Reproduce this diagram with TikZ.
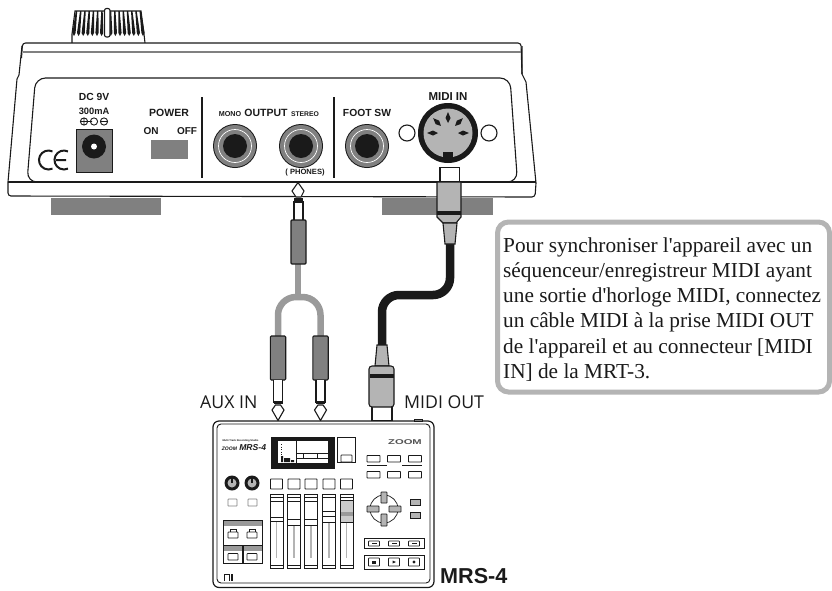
\documentclass[tikz,border=0pt]{standalone}
\usepackage{fontspec}
\setmainfont{Liberation Sans}
\newfontfamily\serifbox{Liberation Serif}
\newfontfamily\auxfont{Open Sans}
\usetikzlibrary{calc}
\definecolor{midg}{HTML}{808080}
\definecolor{lightg}{HTML}{B4B4B4}
\definecolor{cableg}{HTML}{9A9A9A}
\definecolor{ink}{HTML}{1A1A1A}
\tikzset{
 outline/.style={draw=ink,line width=1.1pt},
 thin line/.style={draw=ink,line width=.6pt},
 label/.style={inner sep=0pt,text=ink,font=\bfseries\fontsize{#1}{#1}\selectfont},
 label/.default=12,
 wire/.style={line width=6.5pt,cableg},
 midiwire/.style={line width=8.5pt,ink,rounded corners=17pt},
 btn/.style={draw=ink,line width=.7pt,fill=white,rounded corners=.5pt},
 notetext/.style={inner sep=0pt,anchor=base west,text=ink,font=\serifbox\fontsize{21.3}{25.3}\selectfont},
 sidetext/.style={inner sep=0pt,anchor=base west,text=ink,font=\auxfont\fontsize{17.7}{17.7}\selectfont},
}
\newcommand{\phonejack}[2]{%
 \fill[ink] (#1,#2) circle (22);
 \fill[midg] (#1,#2) circle (21);
 \draw[white,line width=.7pt] (#1,#2) circle (16.5);
 \fill[ink] (#1,#2) circle (12);
}
\newcommand{\plugdown}[2]{% x, top y of sleeve
 \draw[outline,fill=midg,rounded corners=1pt] (#1-7.7,#2) rectangle (#1+7.7,#2+44);
 \draw[outline,fill=white] (#1-4.5,#2+44) -- (#1-4.5,#2+66) -- (#1+4.5,#2+66) -- (#1+4.5,#2+44);
 \fill[ink] (#1-4.5,#2+66) rectangle (#1+4.5,#2+68);
 \draw[outline,fill=white] (#1-2.5,#2+69) -- (#1-6,#2+74) -- (#1,#2+84.5) -- (#1+6,#2+74) -- (#1+2.5,#2+69) -- cycle;
}
\newcommand{\fader}[5]{% x, cap top, cap bottom, fill, bar
 \draw[draw=ink,line width=.8pt,fill=white] (#1-6.5,494) rectangle (#1+6.5,568);
 \draw[thin line] (#1-6.5,497.5) -- (#1+6.5,497.5);
 \draw[thin line] (#1-6.5,565) -- (#1+6.5,565);
 \fill[lightg] (#1-.8,#3) rectangle (#1+.8,558);
 \draw[draw=ink,line width=.8pt,fill=#4] (#1-6.5,#2) rectangle (#1+6.5,#3);
 \draw[thin line] (#1-6.5,#5) -- (#1+6.5,#5);
 \draw[btn,line width=.9pt] (#1-6,479) rectangle (#1+6,489);
}
\begin{document}
\begin{tikzpicture}[x=1pt,y=-1pt]
\useasboundingbox (0,0) rectangle (832,590);
% knob
\draw[outline,fill=white] (72,43) -- (72,34) -- (75,11) -- (141,11) -- (144,34) -- (145,43);
\foreach \i in {0,...,15}{
  \pgfmathsetmacro{\tx}{76.5+\i*4.25}
  \pgfmathsetmacro{\bx}{74+\i*4.6}
  \fill[ink] (\tx-.7,11) -- (\tx+.7,11) -- (\bx+1.6,33) -- (\bx,36) -- (\bx-1.6,33) -- cycle;
}
\draw[outline,fill=white,rounded corners=2pt] (104.5,8.5) rectangle (110,37);
% body
\draw[outline,fill=white,rounded corners=3pt] (21.5,58) -- (22.5,43) -- (521,43) -- (522,74);
\draw[outline,fill=white] (22,46) -- (19,75) -- (17,79) -- (8,182);
\draw[outline] (522,46) -- (522,74) -- (526,82) -- (536,183);
\draw[outline,rounded corners=3pt] (8,182) -- (8,196) -- (535,197) -- (536,183);
\draw[midg,line width=1.1pt] (23,52) -- (521,52);
\draw[outline,rounded corners=10pt] (45,182) -- (27,182) -- (35.5,78) -- (510,78) -- (517.5,182) -- (500,182);
\draw[outline] (8,182) -- (536,182);
% feet
\fill[midg] (51,197.5) rectangle (161,215);
\fill[midg] (382,197.5) rectangle (493,215);
% CE
\draw[ink,line width=2pt] (52.5,151.4) arc[start angle=-65,end angle=-295,radius=9.5];
\draw[ink,line width=2pt] (68,151.4) arc[start angle=-65,end angle=-295,radius=9.5] (56,160) -- (66,160);
% DC
\node[label=10.3] (dc) at (94,97) {DC 9V};
\node[label=9.3] (ma) at (94,111) {300mA};
\draw[ink,line width=.9pt] (84,121.5) circle (3.6) (84,118)--(84,125) (80.5,121.5)--(87.5,121.5)
  (94,121.5) circle (3.6) (88,121.5)--(92,121.5)
  (104,121.5) circle (3.6) (100.5,121.5)--(107.5,121.5);
\fill[midg] (76,129) rectangle (112,172);
\draw[ink,line width=.7pt] (76,129) rectangle (112,172);
\fill[ink] (94,146.5) circle (12);
\fill[white] (94,146.5) circle (3);
% power
\node[label=10.5] (pw) at (169,113) {POWER};
\node[label=10] (on) at (151,131) {ON};
\node[label=10] (off) at (187,131) {OFF};
\fill[midg] (151,140) rectangle (188,159);
\draw[ink,line width=1.6pt] (202,97) -- (202,178);
\draw[ink,line width=1.6pt] (334,97) -- (334,178);
% output
\node[label=7.2] (mono) at (230,114.5) {MONO};
\node[label=10.5] (out) at (266,113) {OUTPUT};
\node[label=6.8] (st) at (305,114.5) {STEREO};
\phonejack{235}{146}
\phonejack{301}{146}
\phonejack{367}{146}
\node[label=7.6] (ph) at (305,172.5) {( PHONES)};
\node[label=10.3] (fs) at (367,113) {FOOT SW};
% midi in
\node[label=11.5] (mi) at (448,97) {MIDI IN};
\fill[ink] (448,133) circle (30);
\fill[lightg] (448,133) circle (24.5);
\draw[outline,fill=white] (407,133) circle (8);
\draw[outline,fill=white] (489,133) circle (8);
\foreach \a in {0,45,90,135,180}{
  \fill[ink,rotate around={-\a:(448,133)}] (427,133) -- (433,130.5) -- (438,133) -- (433,135.5) -- cycle;
}
\fill[ink] (443,152) rectangle (453,162);
% cables
\coordinate (ytop) at (298,263);
\coordinate (ysplit) at (298,297);
\coordinate (yl) at (278,336);
\coordinate (yr) at (320.5,336);
\draw[wire] (ytop) -- (ysplit);
\draw[wire,rounded corners=18pt] (yl) -- (278,297) -- (320.5,297) -- (yr);
\draw[outline,fill=white] (294,220) -- (294,202) -- (303,202) -- (303,220);
\fill[ink] (294,198) rectangle (303,201.5);
\draw[outline,fill=white] (296,197) -- (292,191) -- (298,182.5) -- (304,191) -- (301,197) -- cycle;
\draw[outline,fill=midg,rounded corners=1pt] (291,220) rectangle (306,264);
\plugdown{278}{336}
\plugdown{320.5}{336}
% midi plug top
\coordinate (mt) at (450,243);
\coordinate (mb) at (382,346);
\draw[midiwire] (mt) -- (450,295) -- (382,295) -- (mb);
\draw[outline,fill=white] (440,167.5) rectangle (459.5,182);
\draw[outline,fill=lightg] (437,182) -- (461,182) -- (461,217) -- (456,223) -- (443,223) -- (437,217) -- cycle;
\fill[ink] (437,211) rectangle (461,214.5);
\draw[outline,fill=lightg] (443,223) -- (445,244) -- (455,244) -- (457,223) -- cycle;
% midi plug bottom
\draw[outline,fill=white] (372,405) rectangle (392,421);
\draw[outline,fill=lightg] (377,345) -- (387,345) -- (389,366) -- (375,366) -- cycle;
\draw[outline,fill=lightg,rounded corners=3pt] (369,366) rectangle (394,407);
\fill[ink] (369.5,374) rectangle (393.5,378);
% labels
\node[sidetext] (aux) at (200,408) {AUX IN};
\node[sidetext] (mout) at (404,408) {MIDI OUT};
\node[inner sep=0pt,anchor=base west,text=ink,font=\bfseries\fontsize{21.6}{21.6}\selectfont] (mrs) at (440,583) {MRS-4};
% MRS-4 device
\draw[ink,line width=1.2pt,rounded corners=6pt,fill=white] (213,421) rectangle (434,587.5);
\draw[ink,line width=.9pt,rounded corners=4pt] (217,424) rectangle (430,583);
\draw[thin line,fill=midg] (414,419) rectangle (422,421);
\node[inner sep=0pt,text=ink,font=\bfseries\fontsize{2.6}{2.6}\selectfont] (m1) at (240.5,441) {Multi Track Recording Studio};
\node[inner sep=0pt,text=ink,font=\bfseries\itshape\fontsize{8.6}{8.6}\selectfont] (m2) at (244,447.5) {{\fontsize{5}{5}\selectfont ZOOM} MRS-4};
\node[inner sep=0pt,text=ink!75,xscale=1.6,font=\bfseries\fontsize{7}{7}\selectfont] (zl) at (405,442) {ZOOM};
% screen
\fill[ink] (271,437) rectangle (335,469);
\fill[white] (278,441) rectangle (328,463);
\draw[ink,line width=.5pt] (296,441) -- (296,463) (296,453) -- (328,453) (303,453) -- (303,458) (317,453) -- (317,458) (296,458) -- (328,458);
\fill[ink] (281,456) rectangle (283,462) (284,458) rectangle (290,462) (291,460) rectangle (294,462);
\draw[ink,dotted,line width=.6pt] (281,444) -- (281,455);
\draw[thin line] (355,437) -- (337,437) -- (337,462) -- (355,462) -- cycle;
\draw[btn] (341,455) rectangle (352,462);
% knobs
\foreach \x in {232,252}{
  \fill[ink] (\x,483) circle (7.5);
  \fill[lightg] (\x,483) circle (4.5);
  \draw[ink,line width=1.4pt] (\x,478) -- (\x,483);
}
\draw[draw=midg,line width=.7pt,rounded corners=.5pt] (228,499) rectangle (237,506) (248,499) rectangle (257,506);
% left buttons
\draw[draw=ink,line width=.8pt] (223,520) rectangle (262,563);
\fill[midg!80] (223.5,520.5) rectangle (261.5,526);
\fill[midg!80] (223.5,545) rectangle (261.5,551);
\draw[draw=ink,line width=.8pt] (223,545) -- (262,545);
\draw[ink,line width=1.4pt] (243,545) -- (243,563);
\foreach \x in {233,252}{
  \draw[btn] (\x-5,532) rectangle (\x+5,538);
  \draw[thin line] (\x-3,532) -- (\x-3,529.5) -- (\x+3,529.5) -- (\x+3,532);
  \draw[btn] (\x-5,553.5) rectangle (\x+5,560);
}
\draw[draw=ink,line width=.9pt] (224,581) -- (224,574) -- (229,574) -- (229,581);
\draw[ink,line width=1.2pt] (232,574) -- (232,581);
% faders
\fader{276.5}{501}{521}{white}{517}
\fader{294}{501}{525}{white}{519}
\fader{311}{501}{525}{white}{519}
\fader{329}{511}{522}{white}{516}
\fader{346.5}{500}{522}{lightg!70}{512}
\fill[midg!80] (340.5,512) rectangle (352.5,516);
% right buttons
\foreach \x in {373.5,394,415}{
  \draw[btn,line width=.9pt] (\x-6.5,455.5) rectangle (\x+6.5,462);
  \draw[btn,line width=.9pt] (\x-6.5,471.5) rectangle (\x+6.5,478);
}
\draw[thin line] (367,465) -- (387,465) (402,465) -- (422,465);
% dpad
\draw[ink,line width=.7pt] (384,509) circle (14);
\draw[btn,fill=lightg] (381,492) rectangle (387,503);
\draw[btn,fill=lightg] (381,514) rectangle (387,526);
\draw[btn,fill=lightg] (367,506) rectangle (379,512);
\draw[btn,fill=lightg] (389,506) rectangle (401,512);
\draw[btn,fill=lightg,rounded corners=0pt] (410,499) rectangle (420,505) (410,512) rectangle (420,518);
% transport
\draw[draw=ink,line width=.9pt] (364,538) rectangle (424,548);
\draw[draw=ink,line width=.9pt] (364,555) rectangle (424,569);
\foreach \x in {374,394,414}{
  \draw[btn] (\x-5.5,541) rectangle (\x+5.5,546);
  \draw[btn] (\x-5.5,558) rectangle (\x+5.5,566);
  \fill[ink] (\x-2.5,543) rectangle (\x+2.5,544);
}
\fill[ink] (372,560.5) rectangle (376,563.5);
\fill[ink] (392.5,560.5) -- (396,562) -- (392.5,563.5) -- cycle;
\fill[ink] (414,562) circle (1.7);
% note box
\draw[lightg,line width=5pt,rounded corners=11pt,fill=white] (497.5,222) rectangle (829.5,392);
\node[notetext] (n1) at (503,252) {Pour synchroniser l'appareil avec un};
\node[notetext] (n2) at (503,277.3) {séquenceur/enregistreur MIDI ayant};
\node[notetext] (n3) at (503,302.6) {une sortie d'horloge MIDI, connectez};
\node[notetext] (n4) at (503,327.9) {un câble MIDI à la prise MIDI OUT};
\node[notetext] (n5) at (503,353.2) {de l'appareil et au connecteur [MIDI};
\node[notetext] (n6) at (503,378.5) {IN] de la MRT-3.};
\end{tikzpicture}
\end{document}
